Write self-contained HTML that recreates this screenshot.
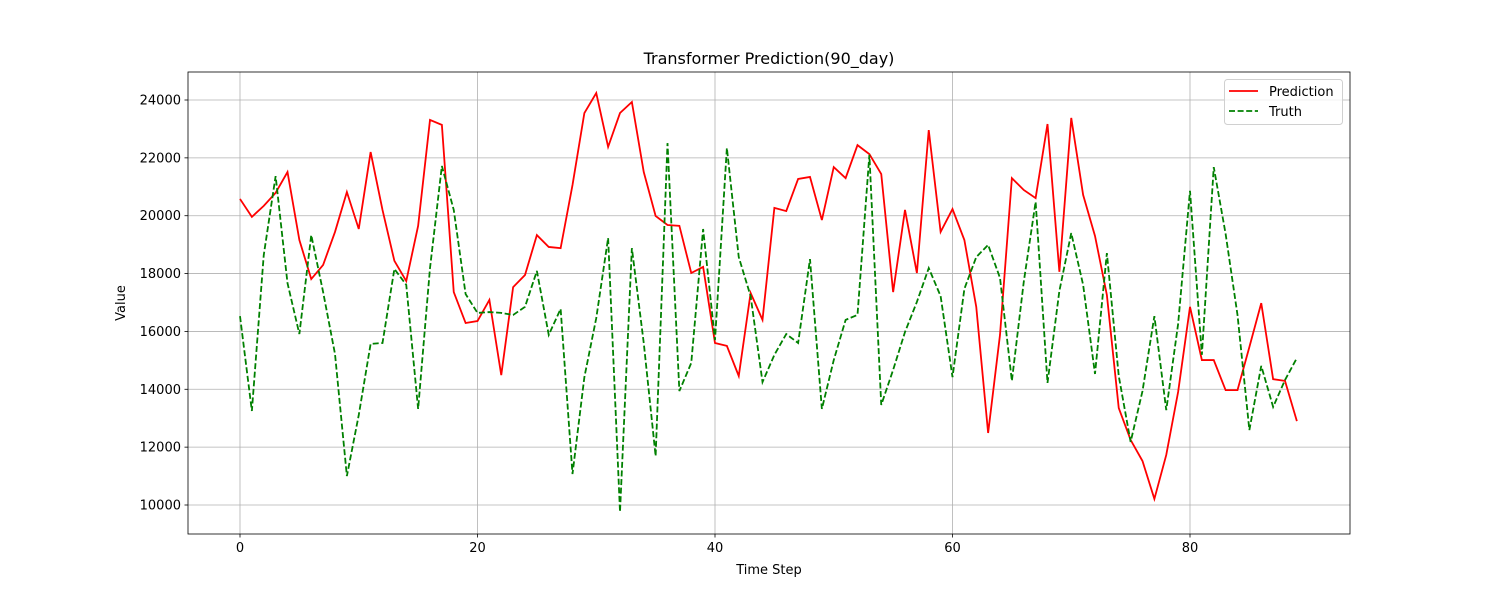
<!DOCTYPE html>
<html><head><meta charset="utf-8"><style>
body{margin:0;background:#fff;font-family:"Liberation Sans","DejaVu Sans",sans-serif}
svg text{font-family:"DejaVu Sans","Liberation Sans",sans-serif;fill:#000}
</style></head><body>
<svg id="chart" width="1500" height="600"></svg>
<script>
const xTicks=[0,20,40,60,80];
const yTicks=[10000,12000,14000,16000,18000,20000,22000,24000];
const prediction=[20580,19960,20340,20790,21510,19160,17810,18300,19440,20820,19540,22200,20200,18440,17740,19650,23310,23140,17360,16290,16360,17090,14490,17530,17950,19330,18920,18880,21060,23550,24240,22380,23550,23930,21510,19990,19680,19650,18020,18230,15600,15500,14460,17330,16400,20270,20160,21270,21340,19850,21680,21300,22440,22130,21440,17360,20200,18020,22960,19440,20230,19160,16850,12490,15880,21300,20890,20610,23170,18060,23380,20720,19300,17260,13350,12250,11520,10210,11730,13910,16850,15010,15010,13970,13970,15460,16980,14350,14290,12900];
const truth=[16530,13250,18640,21370,17670,15910,19330,17360,15220,11000,13110,15570,15600,18160,17610,13320,18190,21720,20200,17290,16640,16670,16640,16570,16850,18090,15880,16780,11070,14420,16460,19230,9760,18880,15600,11690,22510,13940,14910,19540,15700,22340,18570,17220,14250,15190,15910,15600,18500,13320,15010,16400,16570,22100,13460,14670,15980,17020,18190,17220,14420,17470,18570,18990,17850,14290,17710,20480,14220,17400,19400,17610,14530,18710,14460,12180,13940,16530,13280,16260,20860,15190,21680,19370,16570,12590,14810,13390,14320,15080];
const NS='http://www.w3.org/2000/svg';
const svg=document.getElementById('chart');
const L=188,R=1350,T=72,B=534;
const xs=v=>240+v*(477.5-240)/20;
const ys=v=>505-(v-10000)*(405/14000);
function mk(tag,attrs,parent){const e=document.createElementNS(NS,tag);for(const k in attrs)e.setAttribute(k,attrs[k]);(parent||svg).appendChild(e);return e;}
const grid=mk('g',{});


xTicks.forEach(t=>{const x=xs(t);
 const l=mk('line',{x1:x,x2:x,y1:T,y2:B,stroke:'#b0b0b0','stroke-width':0.8},grid);
 
 mk('line',{x1:x,x2:x,y1:B,y2:B+3.5,stroke:'#000','stroke-width':0.8});
 const tx=mk('text',{x:x,y:B+18,'text-anchor':'middle','font-size':13});tx.textContent=t;
 });
yTicks.forEach(t=>{const y=ys(t);
 const l=mk('line',{x1:L,x2:R,y1:y,y2:y,stroke:'#b0b0b0','stroke-width':0.8},grid);
 
 mk('line',{x1:L-3.5,x2:L,y1:y,y2:y,stroke:'#000','stroke-width':0.8});
 const tx=mk('text',{x:L-7,y:y+4.5,'text-anchor':'end','font-size':13});tx.textContent=t;
 });
function line(data,color,dash,name){
 const p=mk('polyline',{points:data.map((v,i)=>xs(i)+','+ys(v)).join(' '),fill:'none',stroke:color,'stroke-width':1.8,'stroke-dasharray':dash||'none'});
 }
line(prediction,'#ff0000',null,'prediction-line');
line(truth,'#008000','6,2.6','truth-line');
const fr=mk('rect',{x:L,y:T,width:R-L,height:B-T,fill:'none',stroke:'#000','stroke-width':0.8});

const title=mk('text',{x:769,y:64,'text-anchor':'middle','font-size':16});title.textContent='Transformer Prediction(90_day)';

const xl=mk('text',{x:769,y:574,'text-anchor':'middle','font-size':13});xl.textContent='Time Step';

const yl=mk('text',{x:125,y:303,'text-anchor':'middle','font-size':13,transform:'rotate(-90 125 303)'});yl.textContent='Value';

const lg=mk('g',{});

mk('rect',{x:1224.5,y:79.5,width:118,height:45,rx:3,fill:'#fff','fill-opacity':0.8,stroke:'#d0d0d0'},lg);
mk('line',{x1:1229,x2:1258,y1:91,y2:91,stroke:'#ff0000','stroke-width':1.8},lg);
mk('line',{x1:1229,x2:1258,y1:111,y2:111,stroke:'#008000','stroke-width':1.8,'stroke-dasharray':'6,2.6'},lg);
const t1=mk('text',{x:1269,y:96,'font-size':13},lg);t1.textContent='Prediction';

const t2=mk('text',{x:1269,y:116,'font-size':13},lg);t2.textContent='Truth';

</script>
</body></html>
